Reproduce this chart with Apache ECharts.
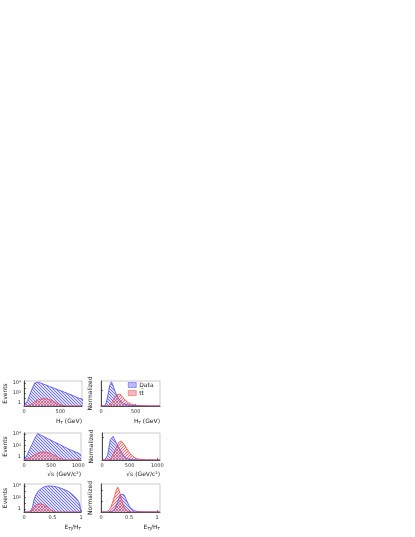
<!DOCTYPE html>
<html>
<head>
<meta charset="utf-8">
<script src="https://cdn.jsdelivr.net/npm/echarts@6/dist/echarts.min.js"></script>
<style>
  html, body { margin: 0; padding: 0; background: #fff; }
  #chart { width: 415px; height: 537px; }
</style>
</head>
<body>
<div id="chart"></div>
<script>
// H_T panels (GeV)
const htX = [0,25,50,75,100,125,150,175,200,225,250,275,300,325,350,375,400,425,450,475,500,525,550,575,600,625,650,675,700,725,750,775,800,825,850];
const htLogData = [0.25,0.5,3,30,250,2000,10000,20000,14500,10500,7600,5500,4000,2900,2100,1500,1100,800,575,420,300,220,160,115,83,60,44,32,21,18,10,11,6,4,3];
const htLogTt = [0.25,0.25,0.25,0.25,0.5,1.1,2,3.2,4.5,6,7.3,8,7.6,6.5,5,3.6,2.5,1.6,1.0,0.65,0.45,0.35,0.3,0.25,0.25,0.25,0.25,0.25,0.25,0.25,0.25,0.25,0.25,0.25,0.25];
const htNormData = [0,0,0,0.02,0.07,0.13,0.155,0.13,0.095,0.07,0.05,0.035,0.024,0.016,0.011,0.008,0.006,0.0045,0.0035,0.0025,0.002,0.0015,0.001,0.0008,0.0006,0.0005,0.0004,0.0003,0.0002,0,0,0,0,0,0];
const htNormTt = [0,0,0,0,0,0.008,0.02,0.037,0.055,0.07,0.08,0.077,0.065,0.05,0.037,0.027,0.019,0.014,0.01,0.007,0.005,0.004,0.003,0.002,0.0015,0.0012,0.001,0.0008,0.0005,0.0003,0.0002,0,0,0,0];

// sqrt(s) panels (GeV/c^2)
const sX = [0,50,100,150,200,250,300,350,400,450,500,550,600,650,700,750,800,850,900,950,1000,1050];
const sLogData = [0.3,1.6,17,170,1800,11500,7000,4100,2400,1400,810,470,275,160,93,54,31,18,12,7,5,2];
const sLogTt = [0.3,0.4,0.6,1.2,2.5,4.5,6.5,7.5,7,5.5,3.8,2.3,1.3,0.7,0.45,0.35,0.3,0.3,0.3,0.3,0.3,0.3];
const sNormData = [0,0,0.02,0.09,0.105,0.08,0.055,0.035,0.015,0.006,0.003,0.0015,0.001,0.0005,0.0003,0,0,0,0,0,0,0];
const sNormTt = [0,0,0,0.003,0.025,0.05,0.078,0.085,0.07,0.05,0.032,0.019,0.01,0.005,0.003,0.002,0.001,0.0007,0.0004,0.0002,0,0];

// E_TJ/H_T panels
const eX = [0,0.025,0.05,0.075,0.1,0.125,0.15,0.175,0.2,0.225,0.25,0.275,0.3,0.325,0.35,0.375,0.4,0.425,0.45,0.475,0.5,0.525,0.55,0.575,0.6,0.625,0.65,0.675,0.7,0.725,0.75,0.775,0.8,0.825,0.85,0.875,0.9,0.925,0.95,0.975,1.0,1.025,1.05];
const eLogData = [0.3,0.3,0.3,0.3,0.3,0.3,2,40,200,550,1200,2200,3500,5000,6500,8000,9200,10000,10000,9600,9000,8300,7500,6800,6000,5000,4000,3200,2500,2000,1550,1200,800,500,320,200,120,60,25,8,0.3,0.3,0.3];
const eLogTt = [0.3,0.3,0.3,0.3,0.3,0.3,0.8,2.5,4.5,6.5,7.5,8,7.5,6.5,5,3.8,2.6,1.7,1.1,0.7,0.45,0.32,0.3,0.3,0.3,0.3,0.3,0.3,0.3,0.3,0.3,0.3,0.3,0.3,0.3,0.3,0.3,0.3,0.3,0.3,0.3,0.3,0.3];
const eNormData = [0,0,0,0,0,0,0,0,0.005,0.015,0.035,0.065,0.1,0.135,0.16,0.172,0.165,0.145,0.115,0.085,0.06,0.04,0.026,0.017,0.011,0.007,0.005,0.0035,0.0025,0.002,0.0015,0.0012,0.001,0.0008,0.0007,0.0005,0.0004,0.0003,0.0002,0.0001,0,0,0];
const eNormTt = [0,0,0,0,0,0.005,0.02,0.045,0.08,0.12,0.165,0.21,0.23,0.2,0.15,0.1,0.06,0.033,0.017,0.008,0.004,0.002,0.001,0,0,0,0,0,0,0,0,0,0,0,0,0,0,0,0,0,0,0,0];

const logLabels = [1, 100, 10000];
const logTicks = [1, 10, 100, 1000, 10000];

const FONT = 'DejaVu Sans';
const BLUE = '#4a4af0';
const RED = '#f04a4a';

// small hatch tiles
function hatch(bg, fg, up) {
    const c = document.createElement('canvas');
    c.width = 3; c.height = 3;
    const g = c.getContext('2d');
    g.fillStyle = bg;
    g.fillRect(0, 0, 3, 3);
    g.fillStyle = fg;
    for (let i = 0; i < 3; i++) g.fillRect(i, up ? 2 - i : i, 1, 1);
    return { image: c, repeat: 'repeat' };
}
const bluePat = hatch('rgba(150,150,255,0.3)', 'rgba(80,80,235,0.75)', false);
const redPat = hatch('rgba(255,150,150,0.28)', 'rgba(235,80,80,0.8)', true);

const grids = [
    { left: 24, top: 381, width: 58, height: 25 },
    { left: 101, top: 381, width: 59, height: 25 },
    { left: 24, top: 433, width: 57, height: 27 },
    { left: 102, top: 433, width: 58, height: 27 },
    { left: 24, top: 484, width: 57, height: 28 },
    { left: 101, top: 484, width: 59, height: 28 }
].map(g => Object.assign(g, { show: true, borderColor: '#aaa', borderWidth: 0.6, outerBoundsMode: 'none' }));

const subRich = {
    n: { fontSize: 6, lineHeight: 8, fontFamily: FONT, color: '#222' },
    s: { fontSize: 4, lineHeight: 8, verticalAlign: 'bottom', fontFamily: FONT, color: '#222' }
};

function xAx(i, name, max, interval, showMax) {
    return {
        type: 'value', gridIndex: i, min: 0, max: max, interval: interval,
        name: name, nameLocation: 'end', nameGap: 0,
        nameTextStyle: { fontSize: 6, fontFamily: FONT, color: '#222', align: 'right', verticalAlign: 'top', padding: [11, 0, 0, 0], rich: subRich },
        axisLine: { lineStyle: { color: '#222', width: 0.8 } },
        axisTick: { inside: true, length: 2, lineStyle: { color: '#222', width: 0.6 } },
        axisLabel: { fontSize: 5, fontFamily: FONT, color: '#333', margin: 3, showMaxLabel: showMax, formatter: v => String(v) },
        splitLine: { show: false }
    };
}
function yLog(i, min, max) {
    return {
        type: 'log', gridIndex: i, min: min, max: max,
        name: 'Events', nameLocation: 'middle', nameGap: 13,
        nameTextStyle: { fontSize: 6, fontFamily: FONT, color: '#222' },
        axisLine: { show: true, lineStyle: { color: '#222', width: 0.8 } },
        axisTick: { show: true, inside: true, length: 2, customValues: logTicks, lineStyle: { color: '#222', width: 0.6 } },
        axisLabel: {
            fontSize: 5, fontFamily: FONT, color: '#333', margin: 3, customValues: logLabels,
            formatter: v => v >= 10000 ? '10\u2074' : (v >= 100 ? '10\u00b2' : '1')
        },
        splitLine: { show: false }
    };
}
function yLin(i, max, ticks) {
    return {
        type: 'value', gridIndex: i, min: 0, max: max,
        name: 'Normalized', nameLocation: 'middle', nameGap: 8,
        nameTextStyle: { fontSize: 6, fontFamily: FONT, color: '#222' },
        axisLine: { show: true, lineStyle: { color: '#222', width: 0.8 } },
        axisTick: { show: true, inside: true, length: 2, customValues: ticks, lineStyle: { color: '#222', width: 0.6 } },
        axisLabel: { show: false },
        splitLine: { show: false }
    };
}

function area(name, xs, ys, gi, color, pat) {
    return {
        name: name, type: 'line', xAxisIndex: gi, yAxisIndex: gi,
        data: xs.map((x, k) => [x, ys[k]]),
        symbol: 'none', showSymbol: false, silent: true,
        lineStyle: { color: color, width: 0.8 },
        itemStyle: { color: color },
        areaStyle: { color: pat, opacity: 1, origin: 'start' }
    };
}

const TT = 't\u0074\u0304';
const htName = '{n|H}{s|T}{n| (GeV)}';
const sName = '\u221as (GeV/c\u00b2)';
const eName = '{n|E}{s|TJ}{n|/H}{s|T}';

const chart = echarts.init(document.getElementById('chart'));
chart.setOption({
    animation: false,
    backgroundColor: '#fff',
    textStyle: { fontFamily: FONT },
    grid: grids,
    legend: {
        left: 128, top: 382, orient: 'vertical', padding: 0,
        itemWidth: 8, itemHeight: 5, itemGap: 2,
        textStyle: { fontSize: 6, fontFamily: FONT, color: '#222', padding: [0, 0, 0, -2] },
        data: [
            { name: 'Data', icon: 'rect', itemStyle: { color: bluePat, borderColor: BLUE, borderWidth: 0.5 } },
            { name: TT, icon: 'rect', itemStyle: { color: redPat, borderColor: RED, borderWidth: 0.5 } }
        ]
    },
    xAxis: [
        xAx(0, htName, 800, 500, false),
        xAx(1, htName, 850, 500, false),
        xAx(2, sName, 1050, 500, false),
        xAx(3, sName, 1050, 500, false),
        xAx(4, eName, 1, 0.5, true),
        xAx(5, eName, 1.05, 0.5, false)
    ],
    yAxis: [
        yLog(0, 0.25, 25000),
        yLin(1, 0.16, [0.1]),
        yLog(2, 0.3, 15000),
        yLin(3, 0.12, [0.1]),
        yLog(4, 0.3, 22000),
        yLin(5, 0.26, [0.1, 0.2])
    ],
    series: [
        area('Data', htX, htLogData, 0, BLUE, bluePat),
        area(TT, htX, htLogTt, 0, RED, redPat),
        area('Data', htX, htNormData, 1, BLUE, bluePat),
        area(TT, htX, htNormTt, 1, RED, redPat),
        area('Data', sX, sLogData, 2, BLUE, bluePat),
        area(TT, sX, sLogTt, 2, RED, redPat),
        area('Data', sX, sNormData, 3, BLUE, bluePat),
        area(TT, sX, sNormTt, 3, RED, redPat),
        area('Data', eX, eLogData, 4, BLUE, bluePat),
        area(TT, eX, eLogTt, 4, RED, redPat),
        area('Data', eX, eNormData, 5, BLUE, bluePat),
        area(TT, eX, eNormTt, 5, RED, redPat)
    ]
});
</script>
</body>
</html>
